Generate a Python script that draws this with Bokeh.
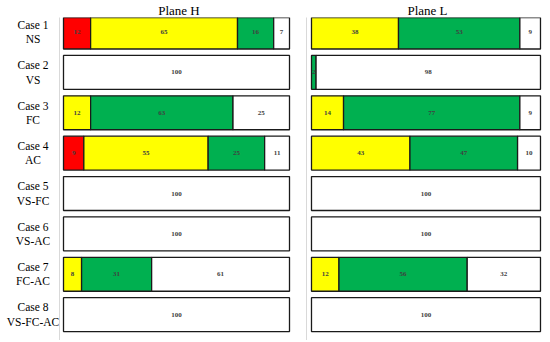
from bokeh.plotting import figure
from bokeh.models import ColumnDataSource, Range1d, FixedTicker
from bokeh.layouts import row
from bokeh.embed import file_html
from bokeh.resources import INLINE
from bokeh.core.properties import value

cases = ["Case 1\nNS", "Case 2\nVS", "Case 3\nFC", "Case 4\nAC",
         "Case 5\nVS-FC", "Case 6\nVS-AC", "Case 7\nFC-AC", "Case 8\nVS-FC-AC"]
segment_colors = ["#ff0000", "#ffff00", "#00b050", "#ffffff"]

# Plane H
h_red = [12, 0, 0, 9, 0, 0, 0, 0]
h_yellow = [65, 0, 12, 55, 0, 0, 8, 0]
h_green = [16, 0, 63, 25, 0, 0, 31, 0]
h_white = [7, 100, 25, 11, 100, 100, 61, 100]

# Plane L
l_red = [0, 0, 0, 0, 0, 0, 0, 0]
l_yellow = [38, 0, 14, 43, 0, 0, 12, 0]
l_green = [53, 2, 77, 47, 0, 0, 56, 0]
l_white = [9, 98, 9, 10, 100, 100, 32, 100]

FONT = "Liberation Serif"
H = 340


def y_range():
    return Range1d(8.64, 0.64)


def style_title(p):
    p.title.align = "center"
    p.title.text_font = FONT
    p.title.text_font_size = "13px"
    p.title.text_font_style = "normal"
    p.title.text_color = "#000000"
    p.title.standoff = 0
    p.title.offset = 0


def build_source(series):
    d = dict(y=[], left=[], right=[], mid=[], label=[], color=[])
    for i in range(len(cases)):
        acc = 0
        for s, col in zip(series, segment_colors):
            v = s[i]
            if v <= 0:
                continue
            d["y"].append(i + 1)
            d["left"].append(acc)
            d["right"].append(acc + v)
            d["mid"].append(acc + v / 2)
            d["label"].append(str(v))
            d["color"].append(col)
            acc += v
    return ColumnDataSource(d)


def make(title, series, x_range, width, border_left):
    p = figure(width=width, height=H, x_range=x_range,
               y_range=y_range(), output_backend="svg",
               toolbar_location=None, title=title,
               min_border_left=border_left, min_border_right=0,
               min_border_top=0, min_border_bottom=0)
    src = build_source(series)
    p.hbar(y="y", left="left", right="right", height=0.84,
           fill_color="color", line_color="#1a1a1a", line_width=1.3, source=src)
    p.text(x="mid", y="y", text="label", text_align="center",
           text_baseline="middle", text_font=value(FONT),
           text_font_size="7px", text_font_style="bold",
           text_color="#404040", source=src)
    p.xaxis.visible = False
    p.xgrid.visible = False
    p.ygrid.visible = False
    p.outline_line_color = None
    p.yaxis.ticker = FixedTicker(ticks=[])
    p.yaxis.axis_line_color = "#d9d9d9"
    p.yaxis.major_tick_line_color = None
    p.yaxis.minor_tick_line_color = None
    p.yaxis.major_label_text_font_size = "0px"
    style_title(p)
    return p


# case labels column
LAB_W = 59
lab = figure(width=LAB_W, height=H, x_range=Range1d(0, LAB_W), y_range=y_range(),
             output_backend="svg", toolbar_location=None, title=" ",
             min_border_left=0, min_border_right=0,
             min_border_top=0, min_border_bottom=0)
lab_src = ColumnDataSource(dict(x=[32.5] * len(cases),
                                y=list(range(1, len(cases) + 1)),
                                text=cases))
lab.text(x="x", y="y", text="text", text_align="center",
         text_baseline="middle", text_font=value(FONT),
         text_font_size="11.5px", text_line_height=1.2,
         text_color="#000000", source=lab_src)
lab.axis.visible = False
lab.grid.visible = False
lab.outline_line_color = None
style_title(lab)

ph = make("Plane H", [h_red, h_yellow, h_green, h_white],
          Range1d(-1.77, 103.98), 239, 0)
pl = make("Plane L", [l_red, l_yellow, l_green, l_white],
          Range1d(-2.18, 103.5), 250, 8)

layout = row(lab, ph, pl)
open("out.html", "w").write(file_html(layout, INLINE))
